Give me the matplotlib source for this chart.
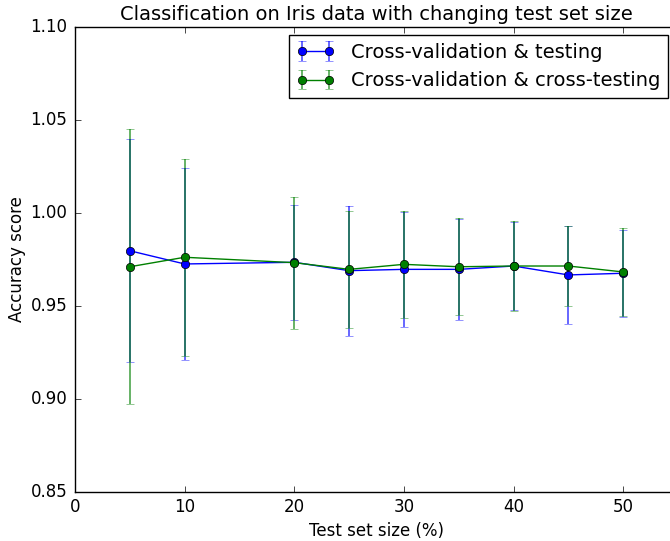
import matplotlib
matplotlib.use("Agg")
import matplotlib.pyplot as plt

plt.style.use("classic")
plt.rcParams["figure.facecolor"] = "white"
plt.rcParams["savefig.facecolor"] = "white"
plt.rcParams["font.family"] = ["DejaVu Sans"]

test_sizes = [5, 10, 20, 25, 30, 35, 40, 45, 50]

testing_mean = [0.9797, 0.9726, 0.9735, 0.9690, 0.9697, 0.9697, 0.9715, 0.9667, 0.9676]
testing_std = [0.0600, 0.0518, 0.0310, 0.0350, 0.0308, 0.0273, 0.0236, 0.0263, 0.0233]

crosstest_mean = [0.9711, 0.9762, 0.9733, 0.9697, 0.9724, 0.9711, 0.9715, 0.9715, 0.9683]
crosstest_std = [0.0740, 0.0530, 0.0355, 0.0313, 0.0288, 0.0261, 0.0240, 0.0217, 0.0239]

labels = ["Cross-validation & testing", "Cross-validation & cross-testing"]

W, H = 670, 541
fig = plt.figure(figsize=(W / 100, H / 100), dpi=100)
# axes extends slightly beyond the right edge of the image (x range 0-55)
ax = fig.add_axes([75 / W, 49 / H, 603 / W, 465 / H])

for mean, std, col, lab in [(testing_mean, testing_std, "b", labels[0]),
                            (crosstest_mean, crosstest_std, "g", labels[1])]:
    eb = ax.errorbar(test_sizes, mean, yerr=std, fmt="o-", color=col,
                     ecolor=col, capsize=3, elinewidth=1.4, label=lab)
    for a in list(eb[1]) + list(eb[2]):
        a.set_alpha(0.6)

ax.set_xlim(0, 55)
ax.set_ylim(0.85, 1.10)
ax.set_xticks([0, 10, 20, 30, 40, 50])
ax.set_yticks([0.85, 0.90, 0.95, 1.00, 1.05, 1.10])
ax.tick_params(axis="y", pad=5.5)
ax.set_xlabel("Test set size (%)")
ax.set_ylabel("Accuracy score", labelpad=3)
ax.set_title("Classification on Iris data with changing test set size", fontsize=14)
ax.legend(loc="upper right", fontsize=14, borderaxespad=0,
          bbox_to_anchor=(668 / W, 1 - 35 / H), bbox_transform=fig.transFigure)

fig.savefig("out.png", dpi=100)
